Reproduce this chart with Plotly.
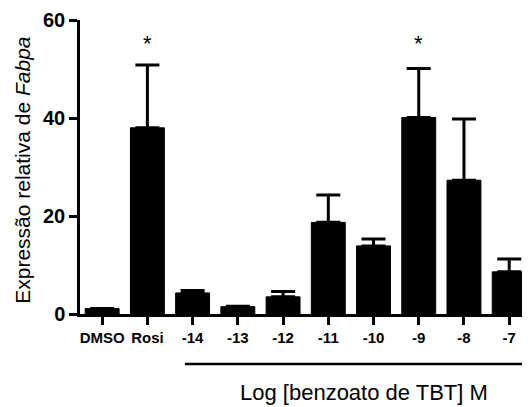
import plotly.graph_objects as go

categories = ["DMSO", "Rosi", "-14", "-13", "-12", "-11", "-10", "-9", "-8", "-7"]
means = [1.1, 38.0, 4.3, 1.5, 3.5, 18.7, 13.9, 40.1, 27.3, 8.6]
upper = [1.1, 50.8, 4.8, 1.6, 4.6, 24.3, 15.3, 50.1, 39.8, 11.2]
y_ticks = [0, 20, 40, 60]
star_cats = [1, 7]
star_y = 56

xpos = list(range(len(categories)))
err_plus = [u - m for u, m in zip(upper, means)]

FONT = "Liberation Sans, Arial, sans-serif"

fig = go.Figure()
fig.add_trace(go.Bar(
    x=xpos, y=means, width=0.75,
    marker=dict(color="black", line=dict(color="black", width=1)),
    error_y=dict(type="data", symmetric=False, array=err_plus,
                 arrayminus=[0] * len(means), color="black",
                 thickness=3, width=12),
    showlegend=False,
))

for i in star_cats:
    fig.add_annotation(x=xpos[i], y=star_y, text="*", showarrow=False,
                       font=dict(family=FONT, size=22, color="black"),
                       yanchor="middle", yshift=-4)

# bracket line under the concentration group
fig.add_shape(type="line", xref="x", yref="paper",
              x0=xpos[2] - 0.17, x1=xpos[9] + 0.3, y0=-0.17, y1=-0.17,
              line=dict(color="black", width=2.5))
fig.add_annotation(xref="paper", yref="paper", x=0.632, y=-0.268,
                   text="Log [benzoato de TBT] M", showarrow=False,
                   font=dict(family=FONT, size=22, color="black"),
                   xanchor="center", yanchor="middle")
fig.add_annotation(xref="paper", yref="paper", x=-0.127, y=0.49,
                   text="Expressão relativa de <i>Fabpa</i>", showarrow=False,
                   textangle=-90,
                   font=dict(family=FONT, size=21, color="black"),
                   xanchor="center", yanchor="middle")

fig.update_layout(
    width=522, height=399,
    margin=dict(l=72, r=0, t=12, b=93),
    plot_bgcolor="white", paper_bgcolor="white",
    bargap=0.25,
    xaxis=dict(
        range=[-0.49, 9.46], tickmode="array", tickvals=xpos,
        ticktext=["<b>%s</b>" % c for c in categories],
        showline=True, linecolor="black", linewidth=2.5,
        ticks="outside", ticklen=8, tickwidth=2.5, tickcolor="black",
        showgrid=False, zeroline=False,
        tickfont=dict(family=FONT, size=15, color="black"),
    ),
    yaxis=dict(
        range=[0, 60], tickmode="array", tickvals=y_ticks,
        ticktext=["<b>%d</b>" % v for v in y_ticks],
        showline=True, linecolor="black", linewidth=2.5,
        ticks="outside", ticklen=8, tickwidth=2.5, tickcolor="black",
        showgrid=False, zeroline=False,
        tickfont=dict(family=FONT, size=20, color="black"),
    ),
)

fig.write_html("out.html")
